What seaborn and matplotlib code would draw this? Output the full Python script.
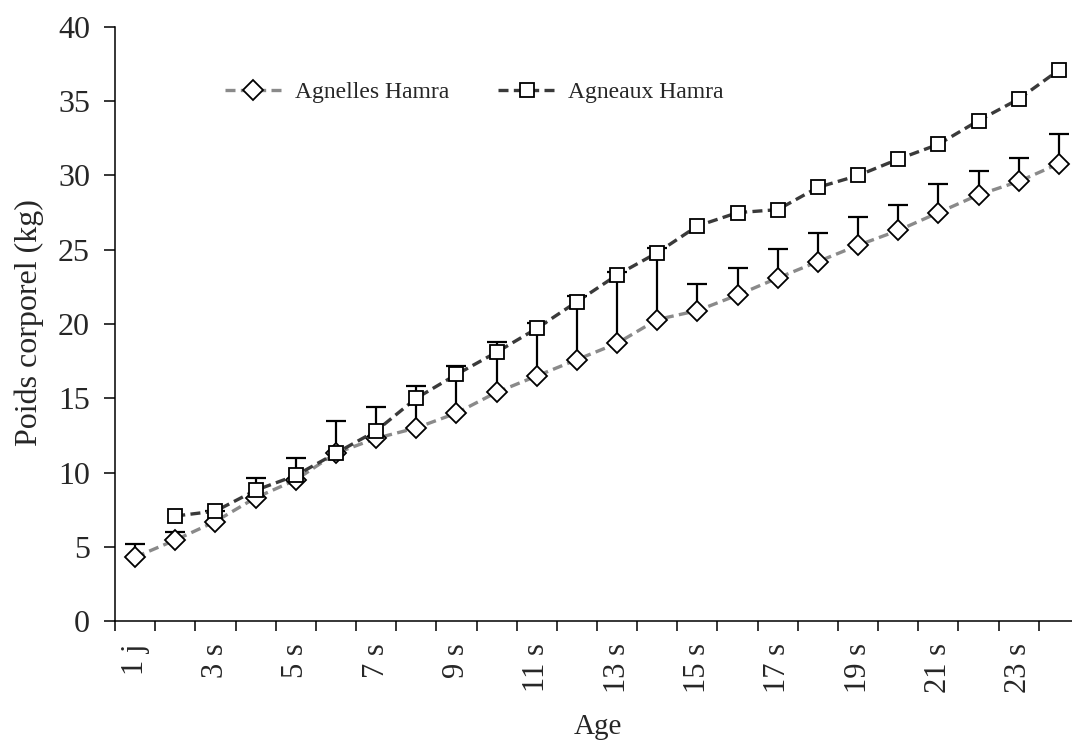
import numpy as np
import pandas as pd
import matplotlib
matplotlib.use("Agg")
import matplotlib.pyplot as plt
import seaborn as sns

# Age classes (1 day, then weeks)
ages = ["1 j"] + [f"{w} s" for w in range(2, 25)]

# Mean body weight (kg) and upper standard deviation
agnelles = [4.3, 5.45, 6.7, 8.3, 9.5, 11.3, 12.3, 13.0, 14.0, 15.4, 16.5, 17.6,
            18.7, 20.3, 20.9, 21.95, 23.1, 24.2, 25.3, 26.3, 27.5, 28.7, 29.6, 30.8]
agnelles_sd = [0.9, 0.55, 0.7, 1.3, 1.5, 2.2, 2.1, 2.8, 3.2, 3.4, 3.6, 4.3,
               4.8, 4.8, 1.8, 1.85, 1.95, 1.9, 1.9, 1.7, 1.9, 1.6, 1.6, 2.0]
agneaux = [np.nan, 7.07, 7.4, 8.8, 9.8, 11.3, 12.8, 15.0, 16.6, 18.1, 19.7, 21.5,
           23.3, 24.8, 26.6, 27.5, 27.7, 29.2, 30.0, 31.1, 32.1, 33.7, 35.15, 37.1]

series_names = ["Agnelles Hamra", "Agneaux Hamra"]

sns.set_style("white")
plt.rcParams["font.family"] = ["Liberation Serif", "DejaVu Serif"]

pos = np.arange(1, len(ages) + 1)
df = pd.DataFrame({
    "pos": np.concatenate([pos, pos]),
    "poids": np.concatenate([agnelles, agneaux]),
    "serie": [series_names[0]] * len(ages) + [series_names[1]] * len(ages),
}).dropna()

fig = plt.figure(figsize=(10.72, 7.45), dpi=100)
ax = fig.add_axes([115 / 1072, 1 - 621 / 745, 964 / 1072, 594 / 745])

# Upper error bars for the ewe lambs
ax.errorbar(pos, agnelles, yerr=[np.zeros(len(pos)), agnelles_sd], fmt="none",
            ecolor="black", elinewidth=1.6, capsize=7, capthick=1.6, zorder=2)

sns.lineplot(data=df, x="pos", y="poids", hue="serie", style="serie",
             hue_order=series_names, style_order=series_names,
             palette={series_names[0]: "#8a8a8a", series_names[1]: "#3a3a3a"},
             markers={series_names[0]: "D", series_names[1]: "s"},
             dashes={series_names[0]: (3, 1.6), series_names[1]: (3, 1.6)},
             linewidth=2.4, markersize=10, markerfacecolor="white",
             markeredgecolor="black", markeredgewidth=1.3,
             ax=ax, zorder=3, legend=True)

# Axes limits and ticks
ax.set_xlim(0.5, len(ages) + 0.5)
ax.set_ylim(0, 40)
ax.set_yticks(np.arange(0, 41, 5))
ax.set_xticks(np.arange(0.5, len(ages) + 1, 1))
ax.set_xticklabels([])
ax.set_xticks(pos[::2], minor=True)
ax.set_xticklabels(ages[::2], minor=True, rotation=90, fontsize=22)
ax.tick_params(axis="x", which="major", direction="out", length=7, width=1.1,
               color="black", bottom=True)
ax.tick_params(axis="x", which="minor", length=0, pad=16, bottom=True)
ax.tick_params(axis="y", direction="out", length=8, width=1.1, color="black",
               labelsize=23, pad=10, left=True)

for side in ["top", "right"]:
    ax.spines[side].set_visible(False)
for side in ["left", "bottom"]:
    ax.spines[side].set_color("black")
    ax.spines[side].set_linewidth(1.1)

ax.set_xlabel("Age", fontsize=21)
ax.set_ylabel("Poids corporel (kg)", fontsize=23)
ax.xaxis.set_label_coords(598 / 1072, 1 - 714 / 745, transform=fig.transFigure)
ax.yaxis.set_label_coords(44 / 1072, 1 - 323 / 745, transform=fig.transFigure)

handles, labels = ax.get_legend_handles_labels()
leg = ax.legend(handles, labels, ncol=2, frameon=False, fontsize=17,
                loc="center left", bbox_to_anchor=(225 / 1072, 1 - 92 / 745),
                bbox_transform=fig.transFigure, borderpad=0, borderaxespad=0,
                handlelength=2.4, handletextpad=0.55, columnspacing=2.1)

fig.savefig("out.png", dpi=100)
